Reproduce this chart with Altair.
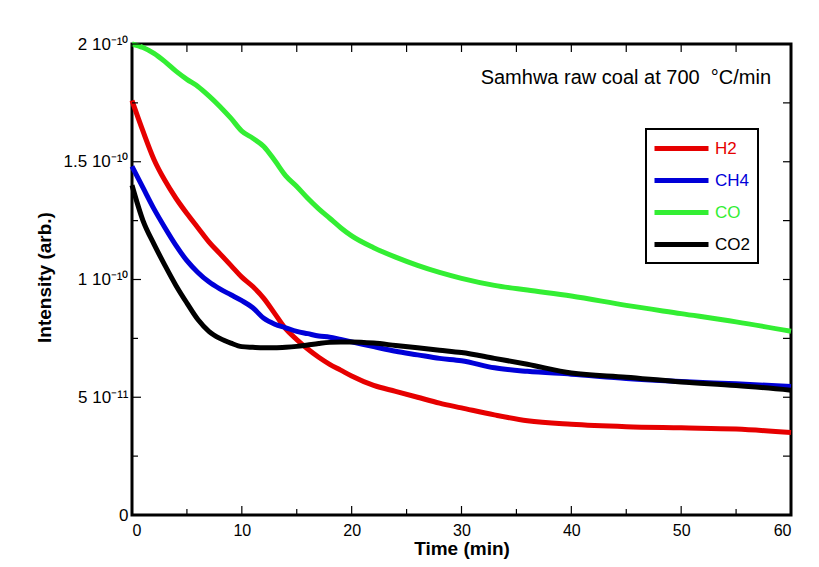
import altair as alt
import pandas as pd

# ---- data (intensity in units of 1e-10) ----
times = [0, 1, 2, 3, 4, 5, 6, 7, 8, 9, 10, 11, 12, 13, 14, 15, 16, 17, 18, 19, 20,
         22, 24, 26, 28, 30, 33, 36, 40, 45, 50, 55, 60]
h2 = [1.76, 1.63, 1.51, 1.42, 1.345, 1.28, 1.22, 1.16, 1.11, 1.06, 1.01, 0.97, 0.92,
      0.855, 0.79, 0.745, 0.705, 0.67, 0.64, 0.615, 0.59,
      0.55, 0.525, 0.50, 0.475, 0.455, 0.425, 0.40, 0.385, 0.375, 0.37, 0.365, 0.35]
ch4 = [1.48, 1.39, 1.30, 1.22, 1.145, 1.08, 1.03, 0.99, 0.96, 0.935, 0.91, 0.88, 0.835,
       0.81, 0.795, 0.78, 0.77, 0.76, 0.755, 0.745, 0.735,
       0.715, 0.695, 0.68, 0.665, 0.655, 0.625, 0.61, 0.598, 0.58, 0.567, 0.557, 0.546]
co = [2.0, 1.985, 1.96, 1.925, 1.885, 1.85, 1.82, 1.78, 1.735, 1.685, 1.63, 1.60, 1.565,
      1.505, 1.44, 1.395, 1.345, 1.30, 1.26, 1.22, 1.185,
      1.135, 1.095, 1.06, 1.03, 1.005, 0.975, 0.955, 0.93, 0.89, 0.855, 0.82, 0.78]
co2 = [1.40, 1.25, 1.15, 1.06, 0.975, 0.90, 0.83, 0.78, 0.75, 0.73, 0.715, 0.712, 0.71,
       0.71, 0.712, 0.716, 0.722, 0.728, 0.733, 0.735, 0.735,
       0.73, 0.72, 0.71, 0.70, 0.69, 0.665, 0.64, 0.603, 0.585, 0.565, 0.55, 0.53]

series_names = ["H2", "CH4", "CO", "CO2"]
series_colors = ["#e60000", "#0000d8", "#33ee33", "#000000"]

x_label_vals = [0, 10, 20, 30, 40, 50, 60]
x_tick_major = [0, 10, 20, 30, 40, 50, 60]
x_tick_minor = [5, 15, 25, 35, 45, 55]
y_label_vals = [0, 5e-11, 1e-10, 1.5e-10, 2e-10]
y_label_text = ["0", "5 10⁻¹¹", "1 10⁻¹⁰", "1.5 10⁻¹⁰", "2 10⁻¹⁰"]
y_tick_major = [0, 5e-11, 1e-10, 1.5e-10, 2e-10]
y_tick_minor = [2.5e-11, 7.5e-11, 1.25e-10, 1.75e-10]

title_text = ["Samhwa raw coal at 700\u00a0 °C/min"]

# ---- build table ----
rows = []
for name, vals in zip(series_names, [h2, ch4, co, co2]):
    for t, v in zip(times, vals):
        rows.append({"t": t, "v": v * 1e-10, "gas": name})
df = pd.DataFrame(rows)

W, H = 659, 471
FONT = "Liberation Sans"

xscale = alt.Scale(domain=[0, 60], nice=False, zero=False)
yscale = alt.Scale(domain=[0, 2e-10], nice=False)

label_expr = " : ".join(
    f"abs(datum.value - {v}) < 1e-13 ? '{t}'" for v, t in zip(y_label_vals, y_label_text)
) + " : ''"

color_map = " : ".join(
    f"datum.label == '{n}' ? '{c}'" for n, c in zip(series_names, series_colors)
) + " : 'black'"

lines = alt.Chart(df).mark_line(strokeWidth=5, interpolate="monotone").encode(
    x=alt.X("t:Q", scale=xscale,
            axis=alt.Axis(values=x_label_vals, title="Time (min)", ticks=False, domain=False,
                          grid=False, labelFontSize=16, labelPadding=7, labelFont=FONT,
                          labelColor="black", titleFont=FONT, titleFontSize=19,
                          titleFontWeight="bold", titleColor="black", titlePadding=1)),
    y=alt.Y("v:Q", scale=yscale,
            axis=alt.Axis(values=y_label_vals, labelExpr=label_expr, title="Intensity (arb.)",
                          ticks=False, domain=False, grid=False, labelFontSize=17,
                          labelPadding=4, labelFont=FONT, labelColor="black",
                          titleFont=FONT, titleFontSize=19, titleFontWeight="bold",
                          titleColor="black", titleX=-78, titleY=233)),
    color=alt.Color("gas:N", scale=alt.Scale(domain=series_names, range=series_colors),
                    legend=alt.Legend(title=None, orient="none", legendX=514, legendY=85,
                                      labelColor={"expr": color_map})),
    order=alt.Order("gas:N"),
)

xmaj = pd.DataFrame({"t": x_tick_major})
xmin = pd.DataFrame({"t": x_tick_minor})
ymaj = pd.DataFrame({"v": y_tick_major})
ymin = pd.DataFrame({"v": y_tick_minor})

def xt(data, y0, y1):
    return alt.Chart(data).mark_rule(color="black", strokeWidth=1.2).encode(
        x=alt.X("t:Q", scale=xscale), y=alt.value(y0), y2=alt.value(y1))

def yt(data, x0, x1):
    return alt.Chart(data).mark_rule(color="black", strokeWidth=1.2).encode(
        y=alt.Y("v:Q", scale=yscale), x=alt.value(x0), x2=alt.value(x1))

ticks = [
    xt(xmaj, H, H - 9), xt(xmin, H, H - 6), xt(xmaj, 0, 8), xt(xmin, 0, 8),
    yt(ymaj, 0, 9), yt(ymin, 0, 6), yt(ymaj, W, W - 8), yt(ymin, W, W - 8),
]

note = alt.Chart(pd.DataFrame({"label": title_text})).mark_text(
    align="right", baseline="alphabetic", fontSize=20, font=FONT, color="black"
).encode(x=alt.value(W - 20), y=alt.value(40), text="label:N")

chart = alt.layer(lines, *ticks, note).properties(
    width=W, height=H,
    autosize=alt.AutoSizeParams(type="none"),
    padding={"left": 124, "top": 36, "right": 20, "bottom": 44},
).configure_view(
    stroke="black", strokeWidth=3
).configure_legend(
    strokeColor="black", strokeWidth=2, padding=8, fillColor="white",
    symbolType="M-3,0H3", symbolSize=324, symbolStrokeWidth=5,
    symbolOffset=16, labelOffset=22, labelFontSize=17, labelFont=FONT,
    rowPadding=10,
).configure_axis(labelFont=FONT, titleFont=FONT)

chart.save("out.html", embed_options={"renderer": "svg", "actions": False})
